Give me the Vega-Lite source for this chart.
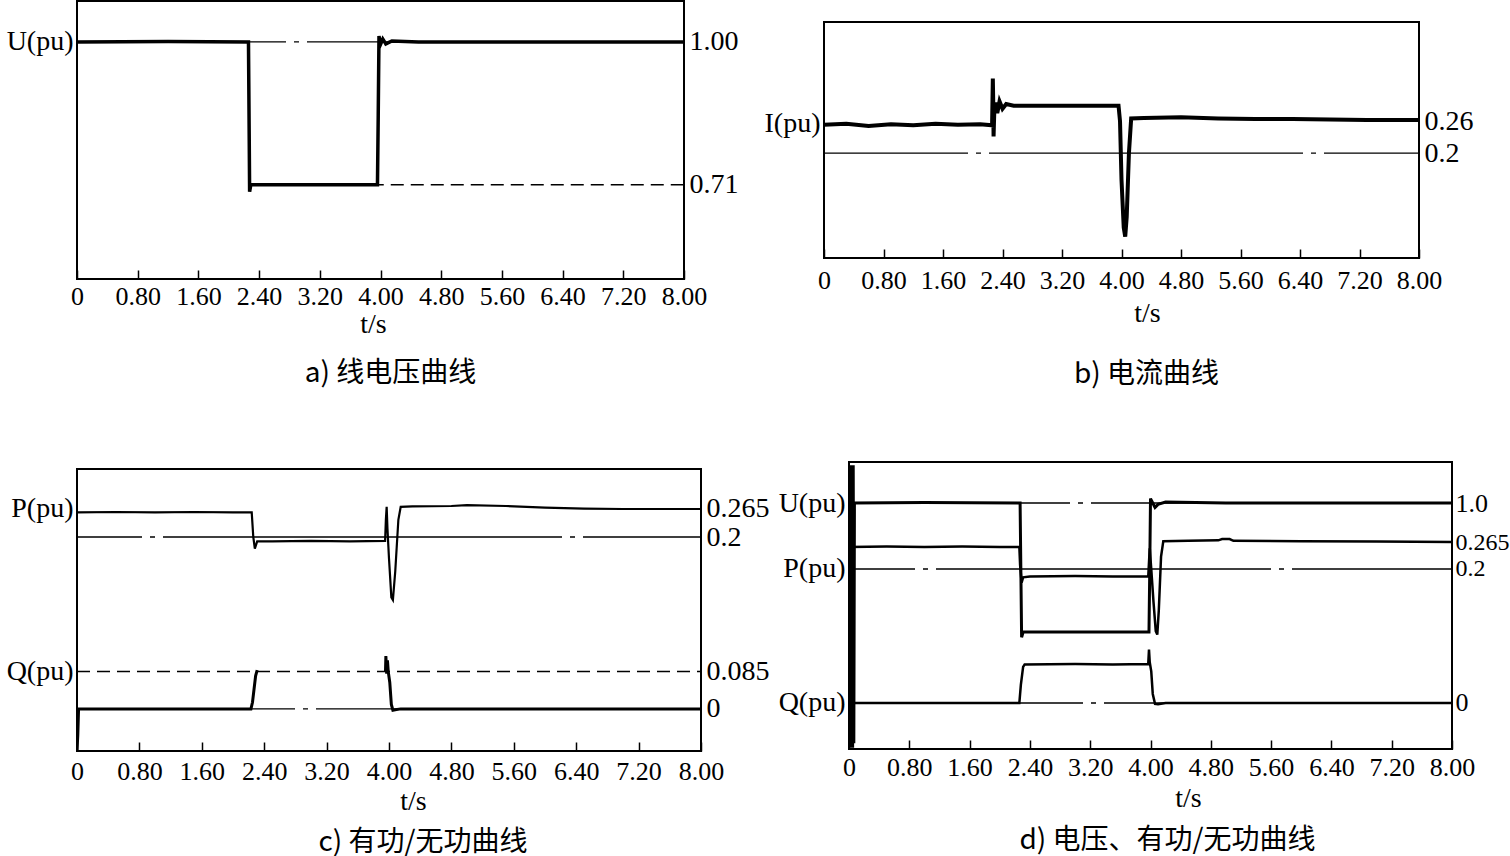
{
  "$schema": "https://vega.github.io/schema/vega-lite/v6.json",
  "background": "white",
  "padding": {"left": 5, "top": 0, "right": 0, "bottom": 0},
  "config": {
    "view": {"stroke": "black", "strokeWidth": 2},
    "axis": {"labelFont": "Liberation Serif", "labelColor": "black", "titleFont": "Liberation Serif", "titleColor": "black", "titleFontWeight": "normal", "grid": false, "domain": false, "labelOverlap": false, "labelFlush": false, "labelBound": false},
    "title": {"font": "Noto Sans CJK SC", "fontWeight": "normal", "color": "black"}
  },
  "datasets": {
    "none": [],
    "aU": [{"t":0,"v":1},{"t":1.2,"v":1.001},{"t":2.26,"v":1},{"t":2.27,"v":0.8},{"t":2.275,"v":0.696},{"t":2.29,"v":0.71},{"t":3.0,"v":0.71},{"t":3.96,"v":0.71},{"t":3.97,"v":0.85},{"t":3.98,"v":1.012},{"t":4.0,"v":0.995},{"t":4.03,"v":1.006},{"t":4.07,"v":0.996},{"t":4.15,"v":1.002},{"t":4.5,"v":1},{"t":8,"v":1}],
    "aRef": [{"y":1,"t0":0,"t1":8}],
    "aDash": [{"y":0.71,"t0":2.29,"t1":8}],
    "bI": [{"t":0,"v":0.253},{"t":0.3,"v":0.255},{"t":0.6,"v":0.251},{"t":0.9,"v":0.254},{"t":1.2,"v":0.252},{"t":1.5,"v":0.255},{"t":1.8,"v":0.253},{"t":2.1,"v":0.254},{"t":2.26,"v":0.252},{"t":2.27,"v":0.34},{"t":2.275,"v":0.3},{"t":2.28,"v":0.231},{"t":2.29,"v":0.28},{"t":2.31,"v":0.295},{"t":2.33,"v":0.275},{"t":2.36,"v":0.297},{"t":2.4,"v":0.283},{"t":2.45,"v":0.292},{"t":2.55,"v":0.289},{"t":3.0,"v":0.289},{"t":3.5,"v":0.289},{"t":3.96,"v":0.289},{"t":3.98,"v":0.26},{"t":4.0,"v":0.15},{"t":4.03,"v":0.06},{"t":4.05,"v":0.043},{"t":4.07,"v":0.08},{"t":4.1,"v":0.2},{"t":4.13,"v":0.265},{"t":4.3,"v":0.266},{"t":4.8,"v":0.267},{"t":5.3,"v":0.265},{"t":5.8,"v":0.264},{"t":6.3,"v":0.264},{"t":6.8,"v":0.263},{"t":7.3,"v":0.262},{"t":8,"v":0.262}],
    "bRef": [{"y":0.2,"t0":0,"t1":8}],
    "cP": [{"t":0,"v":0.257},{"t":0.5,"v":0.258},{"t":1.0,"v":0.257},{"t":1.5,"v":0.258},{"t":2.0,"v":0.257},{"t":2.24,"v":0.257},{"t":2.26,"v":0.2},{"t":2.28,"v":0.173},{"t":2.31,"v":0.19},{"t":2.5,"v":0.19},{"t":3.0,"v":0.191},{"t":3.5,"v":0.19},{"t":3.95,"v":0.191},{"t":3.96,"v":0.24},{"t":3.97,"v":0.27},{"t":3.98,"v":0.22},{"t":4.0,"v":0.15},{"t":4.03,"v":0.06},{"t":4.05,"v":0.054},{"t":4.08,"v":0.12},{"t":4.12,"v":0.24},{"t":4.15,"v":0.27},{"t":4.3,"v":0.271},{"t":4.8,"v":0.272},{"t":5.0,"v":0.274},{"t":5.5,"v":0.272},{"t":6.0,"v":0.268},{"t":6.5,"v":0.266},{"t":7.0,"v":0.265},{"t":8,"v":0.265}],
    "cPRef": [{"y":0.2,"t0":0,"t1":8}],
    "cQ": [{"seg":1,"t":0,"v":-0.095},{"seg":1,"t":0.01,"v":-0.06},{"seg":1,"t":0.02,"v":0},{"seg":1,"t":1.0,"v":0},{"seg":1,"t":2.23,"v":0},{"seg":1,"t":2.25,"v":0.015},{"seg":1,"t":2.27,"v":0.045},{"seg":1,"t":2.29,"v":0.075},{"seg":1,"t":2.31,"v":0.088},{"seg":2,"t":3.955,"v":0.085},{"seg":2,"t":3.96,"v":0.12},{"seg":2,"t":3.97,"v":0.08},{"seg":2,"t":3.98,"v":0.11},{"seg":2,"t":3.99,"v":0.085},{"seg":2,"t":4.01,"v":0.06},{"seg":2,"t":4.03,"v":0.01},{"seg":2,"t":4.05,"v":-0.003},{"seg":2,"t":4.08,"v":-0.002},{"seg":2,"t":4.15,"v":0},{"seg":2,"t":8,"v":0}],
    "cQDash": [{"y":0.085,"t0":0,"t1":8}],
    "cQRef": [{"y":0,"t0":0,"t1":8}],
    "dU": [{"t":0,"v":0.45},{"t":0.008,"v":1.085},{"t":0.016,"v":0.45},{"t":0.024,"v":1.085},{"t":0.032,"v":0.45},{"t":0.04,"v":1.085},{"t":0.048,"v":0.45},{"t":0.056,"v":1.085},{"t":0.064,"v":0.46},{"t":0.072,"v":1.0},{"t":1.0,"v":1.001},{"t":2.27,"v":1.0},{"t":2.28,"v":0.85},{"t":2.29,"v":0.698},{"t":2.31,"v":0.71},{"t":3.0,"v":0.71},{"t":3.98,"v":0.71},{"t":3.99,"v":0.85},{"t":4.0,"v":1.01},{"t":4.03,"v":1.0},{"t":4.06,"v":0.99},{"t":4.1,"v":0.997},{"t":4.2,"v":1.002},{"t":5,"v":1.0},{"t":8,"v":1.0}],
    "dURef": [{"y":1,"t0":0,"t1":8}],
    "dP": [{"t":0,"v":0.253},{"t":0.5,"v":0.254},{"t":1.0,"v":0.253},{"t":1.5,"v":0.254},{"t":2.0,"v":0.253},{"t":2.26,"v":0.253},{"t":2.27,"v":0.21},{"t":2.29,"v":0.167},{"t":2.31,"v":0.18},{"t":2.4,"v":0.182},{"t":3.0,"v":0.183},{"t":3.5,"v":0.182},{"t":3.97,"v":0.182},{"t":3.99,"v":0.25},{"t":4.01,"v":0.2},{"t":4.04,"v":0.12},{"t":4.07,"v":0.05},{"t":4.09,"v":0.042},{"t":4.11,"v":0.1},{"t":4.14,"v":0.23},{"t":4.17,"v":0.267},{"t":4.5,"v":0.268},{"t":4.9,"v":0.269},{"t":4.95,"v":0.272},{"t":5.05,"v":0.272},{"t":5.1,"v":0.268},{"t":6.0,"v":0.267},{"t":7.0,"v":0.266},{"t":8,"v":0.265}],
    "dPRef": [{"y":0.2,"t0":0,"t1":8}],
    "dQ": [{"t":0,"v":0},{"t":1.0,"v":0},{"t":2.26,"v":0},{"t":2.28,"v":0.04},{"t":2.31,"v":0.08},{"t":2.33,"v":0.085},{"t":3.0,"v":0.086},{"t":3.5,"v":0.085},{"t":3.97,"v":0.086},{"t":3.98,"v":0.118},{"t":3.99,"v":0.09},{"t":4.01,"v":0.07},{"t":4.03,"v":0.02},{"t":4.06,"v":-0.002},{"t":4.1,"v":-0.003},{"t":4.2,"v":0},{"t":5,"v":0},{"t":8,"v":0}],
    "dQRef": [{"y":0,"t0":0,"t1":8}]
  },
  "spacing": 71,
  "vconcat": [
    {
      "hconcat": [
        {
          "width": 607, "height": 278,
          "title": {"text": "a) 线电压曲线", "orient": "bottom", "offset": 22, "fontSize": 28, "dx": 10, "frame": "group"},
          "resolve": {"axis": {"y": "independent", "x": "independent"}},
          "layer": [
            {"data": {"name": "aRef"}, "mark": {"type": "rule", "color": "black", "strokeWidth": 1.2, "strokeDash": [300, 8, 5, 8], "strokeDashOffset": 91},
             "encoding": {"x": {"field": "t0", "type": "quantitative", "scale": {"domain": [0, 8], "nice": false, "zero": false}, "axis": null}, "x2": {"field": "t1"},
                          "y": {"field": "y", "type": "quantitative", "scale": {"domain": [0.519, 1.083], "nice": false, "zero": false}, "axis": {"orient": "right", "values": [1, 0.71], "labelExpr": "datum.value == 1 ? '1.00' : '0.71'", "labelFontSize": 28, "labelPadding": 5, "ticks": false, "title": null}}}},
            {"data": {"name": "aDash"}, "mark": {"type": "rule", "color": "black", "strokeWidth": 1.5, "strokeDash": [13, 7]},
             "encoding": {"x": {"field": "t0", "type": "quantitative", "scale": {"domain": [0, 8], "nice": false, "zero": false}, "axis": null}, "x2": {"field": "t1"},
                          "y": {"field": "y", "type": "quantitative", "scale": {"domain": [0.519, 1.083], "nice": false, "zero": false}, "axis": null}}},
            {"data": {"name": "aU"}, "mark": {"type": "line", "color": "black", "strokeWidth": 3.5, "clip": true},
             "encoding": {"x": {"field": "t", "type": "quantitative", "scale": {"domain": [0, 8], "nice": false, "zero": false}, "axis": {"orient": "bottom", "values": [0, 0.8, 1.6, 2.4, 3.2, 4, 4.8, 5.6, 6.4, 7.2, 8], "labelExpr": "datum.value == 0 ? '0' : format(datum.value, '.2f')", "labelFontSize": 26, "tickSize": -9, "tickWidth": 1.5, "tickColor": "black", "labelPadding": 13, "title": "t/s", "titleFont": "Liberation Serif", "titleFontSize": 28, "titlePadding": 1, "titleX": 296}},
                          "y": {"field": "v", "type": "quantitative", "scale": {"domain": [0.519, 1.083], "nice": false, "zero": false}, "axis": {"orient": "left", "values": [1], "labelExpr": "'U(pu)'", "labelFontSize": 28, "labelPadding": 4, "ticks": false, "title": null}}}}
          ]
        },
        {
          "spacing": 19,
          "vconcat": [
            {"width": 1, "height": 1, "view": {"stroke": null}, "data": {"name": "none"}, "mark": "point"},
            {
              "width": 595, "height": 236,
              "title": {"text": "b) 电流曲线", "orient": "bottom", "offset": 34, "fontSize": 28, "dx": 25, "frame": "group"},
              "resolve": {"axis": {"y": "independent", "x": "independent"}},
              "layer": [
                {"data": {"name": "bRef"}, "mark": {"type": "rule", "color": "black", "strokeWidth": 1.3, "strokeDash": [314, 8, 5, 8], "strokeDashOffset": 170},
                 "encoding": {"x": {"field": "t0", "type": "quantitative", "scale": {"domain": [0, 8], "nice": false, "zero": false}, "axis": null}, "x2": {"field": "t1"},
                              "y": {"field": "y", "type": "quantitative", "scale": {"domain": [0.003, 0.446], "nice": false, "zero": false}, "axis": {"orient": "right", "values": [0.26, 0.2], "labelExpr": "datum.value == 0.2 ? '0.2' : '0.26'", "labelFontSize": 28, "labelPadding": 5, "ticks": false, "title": null}}}},
                {"data": {"name": "bI"}, "mark": {"type": "line", "color": "black", "strokeWidth": 4, "clip": true},
                 "encoding": {"x": {"field": "t", "type": "quantitative", "scale": {"domain": [0, 8], "nice": false, "zero": false}, "axis": {"orient": "bottom", "values": [0, 0.8, 1.6, 2.4, 3.2, 4, 4.8, 5.6, 6.4, 7.2, 8], "labelExpr": "datum.value == 0 ? '0' : format(datum.value, '.2f')", "labelFontSize": 26, "tickSize": -9, "tickWidth": 1.5, "tickColor": "black", "labelPadding": 18, "title": "t/s", "titleFont": "Liberation Serif", "titleFontSize": 28, "titlePadding": 6, "titleX": 323}},
                              "y": {"field": "v", "type": "quantitative", "scale": {"domain": [0.003, 0.446], "nice": false, "zero": false}, "axis": {"orient": "left", "values": [0.256], "labelExpr": "'I(pu)'", "labelFontSize": 28, "labelPadding": 4, "ticks": false, "title": null}}}}
              ]
            }
          ]
        }
      ],
      "spacing": 24
    },
    {
      "hconcat": [
        {
          "spacing": 5,
          "vconcat": [
            {"width": 1, "height": 1, "view": {"stroke": null}, "data": {"name": "none"}, "mark": "point"},
            {
              "width": 624, "height": 282,
              "title": {"text": "c) 有功/无功曲线", "orient": "bottom", "offset": 14, "fontSize": 28, "dx": 34, "frame": "group"},
              "resolve": {"scale": {"y": "independent"}, "axis": {"x": "independent"}},
              "layer": [
                {
                  "resolve": {"axis": {"y": "independent", "x": "independent"}},
                  "layer": [
                    {"data": {"name": "cPRef"}, "mark": {"type": "rule", "color": "black", "strokeWidth": 1.3, "strokeDash": [399, 8, 5, 8], "strokeDashOffset": 334},
                     "encoding": {"x": {"field": "t0", "type": "quantitative", "scale": {"domain": [0, 8], "nice": false, "zero": false}, "axis": null}, "x2": {"field": "t1"},
                                  "y": {"field": "y", "type": "quantitative", "scale": {"domain": [-0.2965, 0.3578], "nice": false, "zero": false}, "axis": {"orient": "right", "values": [0.265, 0.2], "labelExpr": "datum.value == 0.2 ? '0.2' : '0.265'", "labelFontSize": 28, "labelPadding": 5, "ticks": false, "title": null}}}},
                    {"data": {"name": "cP"}, "mark": {"type": "line", "color": "black", "strokeWidth": 2.2, "clip": true},
                     "encoding": {"x": {"field": "t", "type": "quantitative", "scale": {"domain": [0, 8], "nice": false, "zero": false}, "axis": {"orient": "bottom", "values": [0, 0.8, 1.6, 2.4, 3.2, 4, 4.8, 5.6, 6.4, 7.2, 8], "labelExpr": "datum.value == 0 ? '0' : format(datum.value, '.2f')", "labelFontSize": 26, "tickSize": -9, "tickWidth": 1.5, "tickColor": "black", "labelPadding": 16, "title": "t/s", "titleFont": "Liberation Serif", "titleFontSize": 28, "titlePadding": 3, "titleX": 336}},
                                  "y": {"field": "v", "type": "quantitative", "scale": {"domain": [-0.2965, 0.3578], "nice": false, "zero": false}, "axis": {"orient": "left", "values": [0.265], "labelExpr": "'P(pu)'", "labelFontSize": 28, "labelPadding": 4, "ticks": false, "title": null}}}}
                  ]
                },
                {
                  "resolve": {"axis": {"y": "independent", "x": "independent"}},
                  "layer": [
                    {"data": {"name": "cQDash"}, "mark": {"type": "rule", "color": "black", "strokeWidth": 1.5, "strokeDash": [13, 7]},
                     "encoding": {"x": {"field": "t0", "type": "quantitative", "scale": {"domain": [0, 8], "nice": false, "zero": false}, "axis": null}, "x2": {"field": "t1"},
                                  "y": {"field": "y", "type": "quantitative", "scale": {"domain": [-0.0955, 0.544], "nice": false, "zero": false}, "axis": {"orient": "right", "values": [0.085, 0], "labelExpr": "datum.value == 0 ? '0' : '0.085'", "labelFontSize": 28, "labelPadding": 5, "ticks": false, "title": null}}}},
                    {"data": {"name": "cQRef"}, "mark": {"type": "rule", "color": "black", "strokeWidth": 1.3, "strokeDash": [399, 8, 5, 8], "strokeDashOffset": 181},
                     "encoding": {"x": {"field": "t0", "type": "quantitative", "scale": {"domain": [0, 8], "nice": false, "zero": false}, "axis": null}, "x2": {"field": "t1"},
                                  "y": {"field": "y", "type": "quantitative", "scale": {"domain": [-0.0955, 0.544], "nice": false, "zero": false}, "axis": null}}},
                    {"data": {"name": "cQ"}, "mark": {"type": "line", "color": "black", "strokeWidth": 3, "clip": true},
                     "encoding": {"x": {"field": "t", "type": "quantitative", "scale": {"domain": [0, 8], "nice": false, "zero": false}, "axis": null},
                                  "y": {"field": "v", "type": "quantitative", "scale": {"domain": [-0.0955, 0.544], "nice": false, "zero": false}, "axis": {"orient": "left", "values": [0.085], "labelExpr": "'Q(pu)'", "labelFontSize": 28, "labelPadding": 4, "ticks": false, "title": null}},
                                  "detail": {"field": "seg", "type": "nominal"}}}
                  ]
                }
              ]
            }
          ]
        },
        {
          "width": 603, "height": 287,
          "title": {"text": "d) 电压、有功/无功曲线", "orient": "bottom", "offset": 15, "fontSize": 28, "dx": 17, "frame": "group"},
          "resolve": {"scale": {"y": "independent"}, "axis": {"x": "independent"}},
          "layer": [
            {
              "resolve": {"axis": {"y": "independent", "x": "independent"}},
              "layer": [
                {"data": {"name": "dURef"}, "mark": {"type": "rule", "color": "black", "strokeWidth": 1.3, "strokeDash": [335, 8, 5, 8], "strokeDashOffset": 114},
                 "encoding": {"x": {"field": "t0", "type": "quantitative", "scale": {"domain": [0, 8], "nice": false, "zero": false}, "axis": null}, "x2": {"field": "t1"},
                              "y": {"field": "y", "type": "quantitative", "scale": {"domain": [0.447, 1.0922], "nice": false, "zero": false}, "axis": {"orient": "right", "values": [1], "labelExpr": "'1.0'", "labelFontSize": 26, "labelPadding": 3, "ticks": false, "title": null}}}},
                {"data": {"name": "dU"}, "mark": {"type": "line", "color": "black", "strokeWidth": 3, "clip": true},
                 "encoding": {"x": {"field": "t", "type": "quantitative", "scale": {"domain": [0, 8], "nice": false, "zero": false}, "axis": {"orient": "bottom", "values": [0, 0.8, 1.6, 2.4, 3.2, 4, 4.8, 5.6, 6.4, 7.2, 8], "labelExpr": "datum.value == 0 ? '0' : format(datum.value, '.2f')", "labelFontSize": 26, "tickSize": -9, "tickWidth": 1.5, "tickColor": "black", "labelPadding": 14, "title": "t/s", "titleFont": "Liberation Serif", "titleFontSize": 28, "titlePadding": 4, "titleX": 339}},
                              "y": {"field": "v", "type": "quantitative", "scale": {"domain": [0.447, 1.0922], "nice": false, "zero": false}, "axis": {"orient": "left", "values": [1], "labelExpr": "'U(pu)'", "labelFontSize": 28, "labelPadding": 4, "ticks": false, "title": null}}}}
              ]
            },
            {
              "resolve": {"axis": {"y": "independent", "x": "independent"}},
              "layer": [
                {"data": {"name": "dPRef"}, "mark": {"type": "rule", "color": "black", "strokeWidth": 1.3, "strokeDash": [335, 8, 5, 8], "strokeDashOffset": 269},
                 "encoding": {"x": {"field": "t0", "type": "quantitative", "scale": {"domain": [0, 8], "nice": false, "zero": false}, "axis": null}, "x2": {"field": "t1"},
                              "y": {"field": "y", "type": "quantitative", "scale": {"domain": [-0.2337, 0.4578], "nice": false, "zero": false}, "axis": {"orient": "right", "values": [0.265, 0.2], "labelExpr": "datum.value == 0.2 ? '0.2' : '0.265'", "labelFontSize": 24, "labelPadding": 3, "ticks": false, "title": null}}}},
                {"data": {"name": "dP"}, "mark": {"type": "line", "color": "black", "strokeWidth": 2.5, "clip": true},
                 "encoding": {"x": {"field": "t", "type": "quantitative", "scale": {"domain": [0, 8], "nice": false, "zero": false}, "axis": null},
                              "y": {"field": "v", "type": "quantitative", "scale": {"domain": [-0.2337, 0.4578], "nice": false, "zero": false}, "axis": {"orient": "left", "values": [0.2], "labelExpr": "'P(pu)'", "labelFontSize": 28, "labelPadding": 4, "ticks": false, "title": null}}}}
              ]
            },
            {
              "resolve": {"axis": {"y": "independent", "x": "independent"}},
              "layer": [
                {"data": {"name": "dQRef"}, "mark": {"type": "rule", "color": "black", "strokeWidth": 1.3, "strokeDash": [335, 8, 5, 8], "strokeDashOffset": 101},
                 "encoding": {"x": {"field": "t0", "type": "quantitative", "scale": {"domain": [0, 8], "nice": false, "zero": false}, "axis": null}, "x2": {"field": "t1"},
                              "y": {"field": "y", "type": "quantitative", "scale": {"domain": [-0.1018, 0.5332], "nice": false, "zero": false}, "axis": {"orient": "right", "values": [0], "labelExpr": "'0'", "labelFontSize": 26, "labelPadding": 3, "ticks": false, "title": null}}}},
                {"data": {"name": "dQ"}, "mark": {"type": "line", "color": "black", "strokeWidth": 2.5, "clip": true},
                 "encoding": {"x": {"field": "t", "type": "quantitative", "scale": {"domain": [0, 8], "nice": false, "zero": false}, "axis": null},
                              "y": {"field": "v", "type": "quantitative", "scale": {"domain": [-0.1018, 0.5332], "nice": false, "zero": false}, "axis": {"orient": "left", "values": [0], "labelExpr": "'Q(pu)'", "labelFontSize": 28, "labelPadding": 4, "ticks": false, "title": null}}}}
              ]
            }
          ]
        }
      ],
      "spacing": 7
    }
  ]
}
